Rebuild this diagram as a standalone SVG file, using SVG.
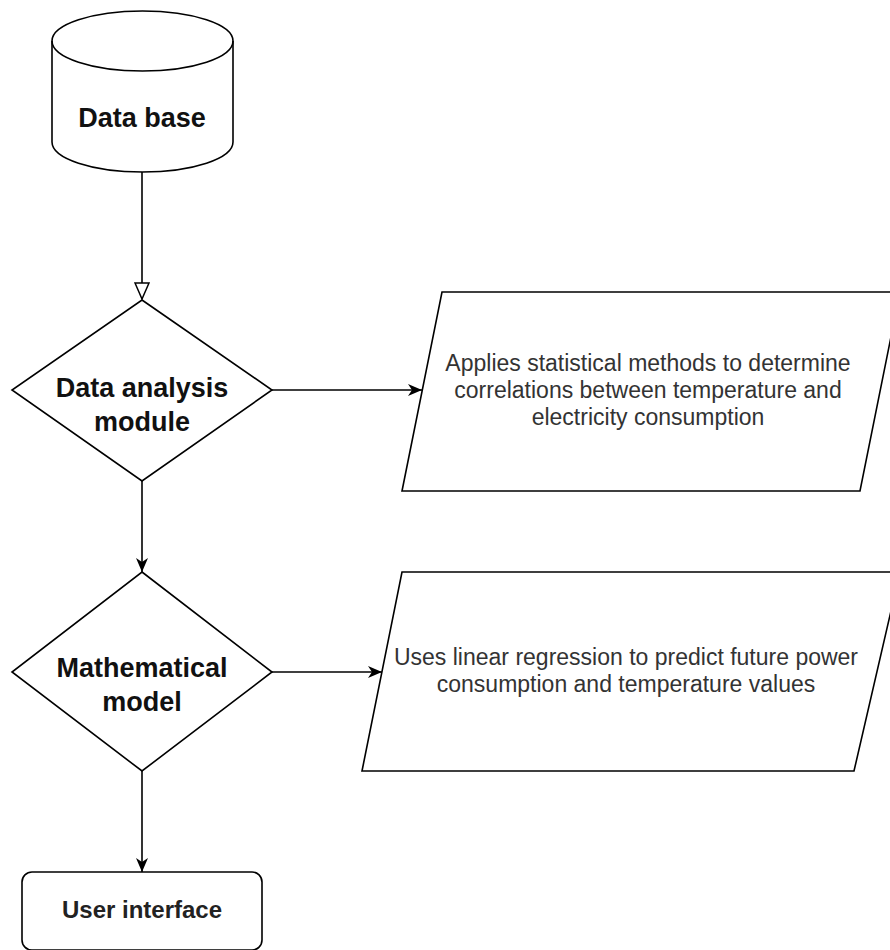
<svg xmlns="http://www.w3.org/2000/svg" width="890" height="950" viewBox="0 0 890 950">
  <defs>
    <style>
      .shape { fill: #ffffff; stroke: #000000; stroke-width: 1.6; }
      .edge { fill: none; stroke: #000000; stroke-width: 1.6; }
      .lbl { font-family: "Liberation Sans", Arial, sans-serif; font-weight: bold; font-size: 27px; fill: #111111; text-anchor: middle; }
      .ui { font-family: "Liberation Sans", Arial, sans-serif; font-weight: bold; font-size: 24px; fill: #222222; text-anchor: middle; }
      .desc { font-family: "Liberation Sans", Arial, sans-serif; font-size: 23px; fill: #333333; text-anchor: middle; }
    </style>
    <marker id="classic" viewBox="0 0 14 12" refX="14" refY="6" markerWidth="14" markerHeight="12" markerUnits="userSpaceOnUse" orient="auto">
      <path d="M0,0 L14,6 L0,12 L4,6 Z" fill="#000000"/>
    </marker>
    <marker id="hollow" viewBox="0 0 18 16" refX="17" refY="8" markerWidth="18" markerHeight="16" markerUnits="userSpaceOnUse" orient="auto">
      <path d="M1,1 L17,8 L1,15 Z" fill="#ffffff" stroke="#000000" stroke-width="1.5"/>
    </marker>
  </defs>
  <rect x="0" y="0" width="890" height="950" fill="#ffffff"/>

  <g id="connectors">
    <path class="edge" d="M142,172 V299" marker-end="url(#hollow)"/>
    <path class="edge" d="M272,390 H422" marker-end="url(#classic)"/>
    <path class="edge" d="M142,481 V572" marker-end="url(#classic)"/>
    <path class="edge" d="M272,672 H382" marker-end="url(#classic)"/>
    <path class="edge" d="M142,771 V872" marker-end="url(#classic)"/>
  </g>

  <g id="database">
    <path class="shape" d="M52,41 A90.5,30 0 0 1 233,41 L233,142 A90.5,30 0 0 1 52,142 Z"/>
    <path class="edge" d="M52,41 A90.5,30 0 0 0 233,41"/>
    <text class="lbl" x="142" y="127">Data base</text>
  </g>

  <g id="data-analysis">
    <polygon class="shape" points="142,300 272,390 142,481 12,390"/>
    <text class="lbl" x="142" y="397">Data analysis</text>
    <text class="lbl" x="142" y="431">module</text>
  </g>

  <g id="statistics">
    <polygon class="shape" points="442,292 900,292 860,491 402,491"/>
    <text class="desc" x="648" y="371">Applies statistical methods to determine</text>
    <text class="desc" x="648" y="398">correlations between temperature and</text>
    <text class="desc" x="648" y="425">electricity consumption</text>
  </g>

  <g id="math-model">
    <polygon class="shape" points="142,572 272,672 142,771 12,672"/>
    <text class="lbl" x="142" y="677">Mathematical</text>
    <text class="lbl" x="142" y="711">model</text>
  </g>

  <g id="regression">
    <polygon class="shape" points="402,572 900,572 854,771 362,771"/>
    <text class="desc" x="626" y="665">Uses linear regression to predict future power</text>
    <text class="desc" x="626" y="692">consumption and temperature values</text>
  </g>

  <g id="user-interface">
    <rect class="shape" x="22" y="872" width="240" height="78" rx="10" ry="10"/>
    <text class="ui" x="142" y="918">User interface</text>
  </g>
</svg>
